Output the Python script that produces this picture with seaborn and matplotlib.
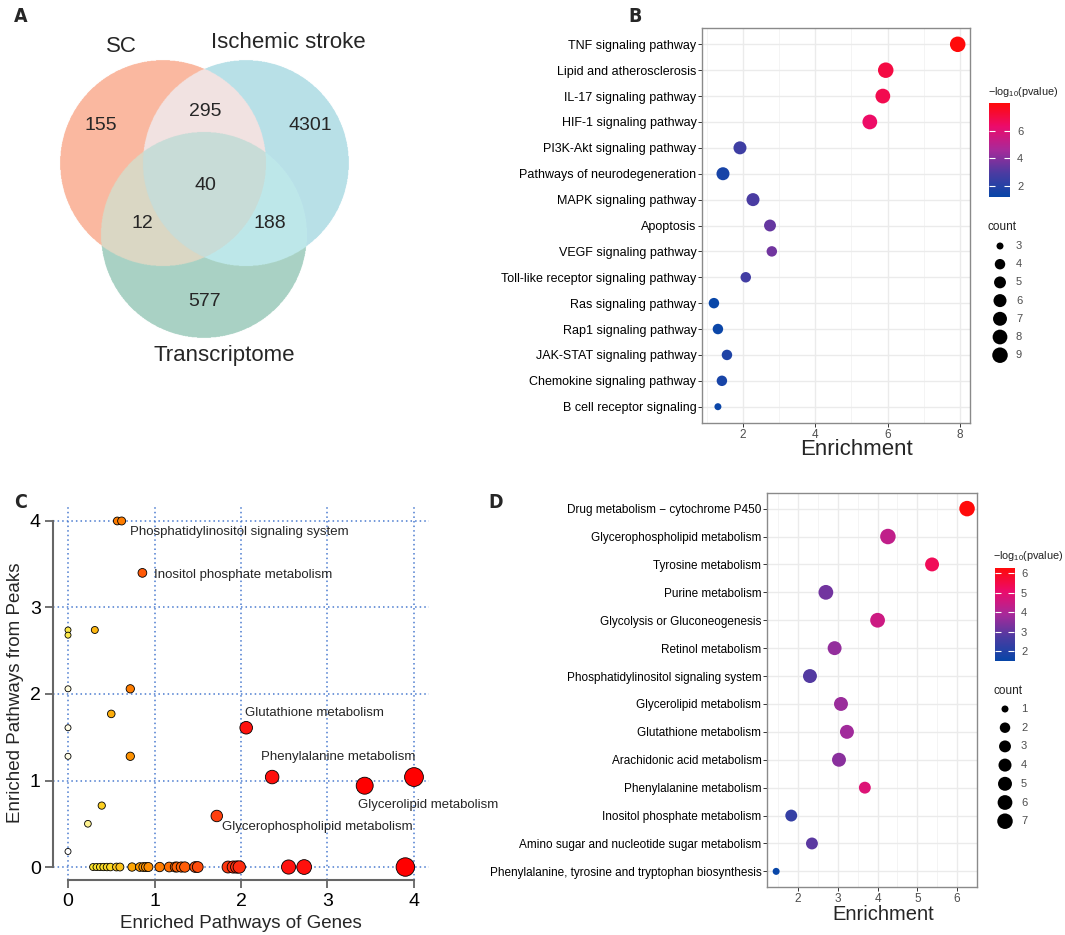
import numpy as np
import pandas as pd
import matplotlib
matplotlib.use('Agg')
import matplotlib.pyplot as plt
import seaborn as sns
from matplotlib.colors import LinearSegmentedColormap, to_rgb

sns.set_theme(style='white')
plt.rcParams['font.family'] = ['Liberation Sans', 'DejaVu Sans']
plt.rcParams['mathtext.default'] = 'regular'

# ---------------- DATA ----------------
# Panel A (Venn counts)
venn_sets = ['SC', 'Ischemic stroke', 'Transcriptome']
venn_counts = {'100': 155, '110': 295, '010': 4301, '111': 40,
               '101': 12, '011': 188, '001': 577}

# Panel B (KEGG genes)
b_paths = ['TNF signaling pathway', 'Lipid and atherosclerosis', 'IL-17 signaling pathway',
           'HIF-1 signaling pathway', 'PI3K-Akt signaling pathway', 'Pathways of neurodegeneration',
           'MAPK signaling pathway', 'Apoptosis', 'VEGF signaling pathway',
           'Toll-like receptor signaling pathway', 'Ras signaling pathway', 'Rap1 signaling pathway',
           'JAK-STAT signaling pathway', 'Chemokine signaling pathway', 'B cell receptor signaling']
b_enrich = [7.94, 5.95, 5.87, 5.51, 1.92, 1.45, 2.28, 2.75, 2.80, 2.08, 1.20, 1.31, 1.56, 1.42, 1.31]
b_logp = [8.0, 7.0, 6.8, 6.4, 2.6, 1.6, 2.9, 3.4, 3.6, 2.7, 1.2, 1.3, 1.8, 1.6, 1.3]
b_count = [9, 9, 8, 8, 6, 6, 6, 5, 4, 4, 4, 4, 4, 4, 3]
b_cbar_ticks = [2, 4, 6]
b_count_levels = [3, 4, 5, 6, 7, 8, 9]

# Panel C (joint pathway analysis)
c_genes = [0.57, 0.62, 0.86, 0.00, 0.00, 0.31, 0.00, 0.72, 0.50, 0.00, 0.00, 0.72, 0.39, 0.23, 0.00,
           2.06, 2.36, 3.43, 4.00, 1.72,
           0.29, 0.33, 0.37, 0.41, 0.45, 0.49, 0.56, 0.60, 0.74, 0.83, 0.87, 0.90, 0.93, 1.06,
           1.17, 1.24, 1.26, 1.31, 1.35, 1.47, 1.50, 1.85, 1.91, 1.95, 1.98, 2.55, 2.73, 3.90]
c_peaks = [4.00, 4.00, 3.40, 2.74, 2.68, 2.74, 2.06, 2.06, 1.77, 1.61, 1.28, 1.28, 0.71, 0.50, 0.18,
           1.61, 1.04, 0.94, 1.04, 0.59] + [0.0] * 28
c_impact = [0.62, 0.62, 0.72, 0.22, 0.22, 0.42, 0.06, 0.62, 0.45, 0.04, 0.04, 0.55, 0.33, 0.16, 0.0,
            0.95, 0.96, 1.0, 1.0, 0.82,
            0.25, 0.26, 0.27, 0.28, 0.29, 0.30, 0.36, 0.38, 0.48, 0.52, 0.54, 0.55, 0.56, 0.62,
            0.66, 0.68, 0.69, 0.70, 0.71, 0.76, 0.77, 0.85, 0.86, 0.87, 0.88, 0.95, 0.96, 1.0]
c_labels = ['Phosphatidylinositol signaling system', 'Inositol phosphate metabolism',
            'Glutathione metabolism', 'Phenylalanine metabolism', 'Glycerolipid metabolism',
            'Glycerophospholipid metabolism']
c_ticks = [0, 1, 2, 3, 4]

# Panel D (KEGG metabolites)
d_paths = ['Drug metabolism \u2212 cytochrome P450', 'Glycerophospholipid metabolism',
           'Tyrosine metabolism', 'Purine metabolism', 'Glycolysis or Gluconeogenesis',
           'Retinol metabolism', 'Phosphatidylinositol signaling system', 'Glycerolipid metabolism',
           'Glutathione metabolism', 'Arachidonic acid metabolism', 'Phenylalanine metabolism',
           'Inositol phosphate metabolism', 'Amino sugar and nucleotide sugar metabolism',
           'Phenylalanine, tyrosine and tryptophan biosynthesis']
d_enrich = [6.25, 4.26, 5.37, 2.70, 4.00, 2.92, 2.30, 3.08, 3.23, 3.03, 3.68, 1.83, 2.35, 1.45]
d_logp = [6.26, 4.3, 5.3, 3.2, 4.5, 3.6, 2.8, 3.7, 3.8, 3.5, 4.8, 2.3, 2.9, 1.5]
d_count = [7, 7, 5, 6, 6, 5, 5, 5, 5, 5, 3, 3, 3, 1]
d_cbar_ticks = [2, 3, 4, 5, 6]
d_count_levels = [1, 2, 3, 4, 5, 6, 7]

# ---------------- FIGURE ----------------
W, H = 1065, 935
fig = plt.figure(figsize=(W / 100, H / 100), dpi=100)
PX2PT = 0.72


def rect(l, t, r, b):
    return [l / W, 1 - b / H, (r - l) / W, (b - t) / H]


ov = fig.add_axes([0, 0, 1, 1])
ov.set_xlim(0, W)
ov.set_ylim(H, 0)
ov.axis('off')
ov.patch.set_alpha(0)

# panel letters
for lt, (px, py) in zip('ABCD', [(14, 16), (628, 16), (14, 503), (488, 503)]):
    ov.text(px, py, lt, fontsize=14, fontweight='bold', family='DejaVu Sans',
            fontstretch='condensed', ha='left', va='center')

# ---------------- A: Venn ----------------
centers = [(163, 163), (246, 163), (204, 235)]
rad = 103
region_cols = {'100': '#FAB9A0', '110': '#F2E2E1', '010': '#B8E0E8', '111': '#C8DCD7',
               '101': '#DAD7C4', '011': '#BEE8EA', '001': '#A9D2C4'}
step = 0.5
gx, gy = np.meshgrid(np.arange(40, 370, step) + step / 2, np.arange(40, 360, step) + step / 2)
masks = [((gx - cx) ** 2 + (gy - cy) ** 2) <= rad ** 2 for cx, cy in centers]
img = np.ones(gx.shape + (4,))
img[..., 3] = 0.0
for key, col in region_cols.items():
    m = np.ones(gx.shape, bool)
    for k, mk in zip(key, masks):
        m &= mk if k == '1' else ~mk
    img[m, :3] = to_rgb(col)
    img[m, 3] = 1.0
ov.imshow(img, extent=(40, 370, 360, 40), interpolation='antialiased', zorder=1)
num_pos = {'100': (101, 125), '110': (205, 112), '010': (310, 125), '111': (205, 186),
           '101': (142, 223), '011': (270, 223), '001': (205, 302)}
for key, val in venn_counts.items():
    x, y = num_pos[key]
    ov.text(x, y, str(val), fontsize=14, ha='center', va='center', zorder=3)
for name, (x, y) in zip(venn_sets, [(121, 46), (288, 43), (224, 356)]):
    ov.text(x, y, name, fontsize=16, ha='center', va='center', zorder=3)

# colour map for B and D
cmap_p = LinearSegmentedColormap.from_list(
    'bp', [(0.0, '#0846a8'), (0.25, '#4a3ca2'), (0.5, '#a82a9a'), (0.75, '#ec0c6c'), (1.0, '#ff0a0a')])

DMIN, DMAX = 7.0, 15.5  # dot diameters in px for smallest / largest count


def size_of(c, cmin, cmax):
    # ggplot-like area scale: diameter grows with sqrt of rescaled value
    t = (c - cmin) / (cmax - cmin)
    d = DMIN + (DMAX - DMIN) * np.sqrt(t)
    return (d * PX2PT) ** 2


def dotplot(ax, paths, enrich, logp, count, vmin, vmax, cmin, cmax, xlim, pad, majors, minors, fs):
    df = pd.DataFrame({'pathway': paths, 'enrich': enrich, 'logp': logp, 'count': count})
    sizes = {c: size_of(c, cmin, cmax) for c in sorted(set(count))}
    sns.scatterplot(data=df, x='enrich', y='pathway', hue='logp', palette=cmap_p,
                    hue_norm=(vmin, vmax), size='count', sizes=sizes,
                    edgecolor='none', linewidth=0, legend=False, ax=ax, zorder=3)
    n = len(paths)
    ax.set_ylim(n - 1 + pad, -pad)
    ax.set_xlim(*xlim)
    ax.set_xticks(majors)
    ax.set_xticks(minors, minor=True)
    ax.set_axisbelow(True)
    ax.grid(True, which='major', color='#ebebeb', lw=1.0)
    ax.grid(True, which='minor', axis='x', color='#f2f2f2', lw=0.6)
    for s in ax.spines.values():
        s.set_color('#8a8a8a')
        s.set_linewidth(1.0)
    ax.tick_params(axis='y', labelsize=fs, labelcolor='black', length=3, width=0.7,
                   color='#333333', pad=1, left=True)
    ax.tick_params(axis='x', which='major', labelsize=8.5, labelcolor='#4d4d4d', length=3,
                   width=0.7, color='#333333', pad=1, bottom=True)
    ax.tick_params(axis='x', which='minor', length=0)
    ax.set_ylabel('')


def colorbar(r, vmin, vmax, ticks, title_xy):
    cax = fig.add_axes(rect(*r))
    grad = np.linspace(vmin, vmax, 256).reshape(-1, 1)
    cax.imshow(grad, cmap=cmap_p, vmin=vmin, vmax=vmax, origin='lower', aspect='auto',
               extent=(0, 1, vmin, vmax))
    cax.set_xticks([])
    cax.set_yticks(ticks)
    cax.set_yticklabels([str(t) for t in ticks])
    cax.tick_params(axis='y', direction='in', left=True, right=True, labelleft=False,
                    labelright=True, color='white', length=4, width=0.8,
                    labelsize=8, labelcolor='#4d4d4d', pad=5)
    for s in cax.spines.values():
        s.set_visible(False)
    ov.text(title_xy[0], title_xy[1], '\u2212log$_{10}$(pvalue)', fontsize=7.8,
            ha='left', va='center', color='#222222')


def count_legend(levels, cmin, cmax, title_y, y0, dy, xdot, xlab):
    ov.text(xdot - 12, title_y, 'count', fontsize=8.5, ha='left', va='center', color='#222222')
    for i, c in enumerate(levels):
        ov.scatter([xdot], [y0 + i * dy], s=size_of(c, cmin, cmax), color='black',
                   edgecolor='none', zorder=4)
        ov.text(xlab, y0 + i * dy, str(c), fontsize=8, ha='left', va='center', color='#4d4d4d')


# ---------------- B ----------------
axB = fig.add_axes(rect(702, 28, 970, 423))
dotplot(axB, b_paths, b_enrich, b_logp, b_count, 1.2, 8.0, 3, 9, (0.87, 8.28), 0.63,
        [2, 4, 6, 8], [1, 3, 5, 7], 9)
axB.set_xlabel('Enrichment', fontsize=16, labelpad=-1)
axB.xaxis.label.set_x(0.575)
colorbar((989, 103, 1010, 197), 1.2, 8.0, b_cbar_ticks, (988, 92))
count_legend(b_count_levels, 3, 9, 227, 246, 18.2, 1000, 1016)

# ---------------- D ----------------
axD = fig.add_axes(rect(767, 493, 977, 887))
dotplot(axD, d_paths, d_enrich, d_logp, d_count, 1.49, 6.26, 1, 7, (1.22, 6.5), 0.56,
        [2, 3, 4, 5, 6], [1.5, 2.5, 3.5, 4.5, 5.5, 6.5], 8.5)
axD.set_xlabel('Enrichment', fontsize=14.5, labelpad=0)
axD.xaxis.label.set_x(0.555)
colorbar((995, 568, 1014, 661), 1.49, 6.26, d_cbar_ticks, (993, 556))
count_legend(d_count_levels, 1, 7, 691, 709, 18.7, 1005, 1021)

# ---------------- C ----------------
cmap_c = LinearSegmentedColormap.from_list(
    'cc', [(0.0, '#ffffff'), (0.12, '#fff8b8'), (0.25, '#fbe42a'), (0.38, '#fcc21a'),
           (0.5, '#fd9f00'), (0.62, '#fe7c00'), (0.72, '#ff5a08'), (0.85, '#ff3810'),
           (0.95, '#ff1410'), (1.0, '#ff0000')])
dfC = pd.DataFrame({'genes': c_genes, 'peaks': c_peaks, 'impact': c_impact})
c_sizes = {g: ((6.0 + 3.2 * g) * PX2PT) ** 2 for g in sorted(set(c_genes))}
axC = fig.add_axes(rect(53.3, 505.4, 428.7, 880))
sns.scatterplot(data=dfC, x='genes', y='peaks', hue='impact', palette=cmap_c, hue_norm=(0, 1),
                size='genes', sizes=c_sizes, edgecolor='black',
                linewidth=0.6, legend=False, ax=axC, zorder=3)
axC.set_xlim(-0.17, 4.17)
axC.set_ylim(-0.15, 4.18)
axC.set_xticks(c_ticks)
axC.set_yticks(c_ticks)
axC.grid(True, color='#4a7bd0', lw=1.1, linestyle=(0, (1, 2)))
axC.set_axisbelow(True)
for side in ['top', 'right']:
    axC.spines[side].set_visible(False)
for side in ['left', 'bottom']:
    axC.spines[side].set_bounds(0, 4)
    axC.spines[side].set_color('#666666')
    axC.spines[side].set_linewidth(1.5)
axC.tick_params(direction='out', length=6, width=1.3, color='#666666', labelsize=14,
                labelcolor='black', pad=3, left=True, bottom=True)
axC.set_xlabel('Enriched Pathways of Genes', fontsize=13.5, labelpad=4)
axC.set_ylabel('Enriched Pathways from Peaks', fontsize=13.5, labelpad=4)
c_label_xy = [(0.72, 3.87), (0.99, 3.38), (2.05, 1.78), (2.23, 1.27), (3.35, 0.72), (1.78, 0.46)]
for lab, (x, y) in zip(c_labels, c_label_xy):
    axC.text(x, y, lab, fontsize=9.5, ha='left', va='center', zorder=4)

fig.savefig('out.png', dpi=100, facecolor='white')
